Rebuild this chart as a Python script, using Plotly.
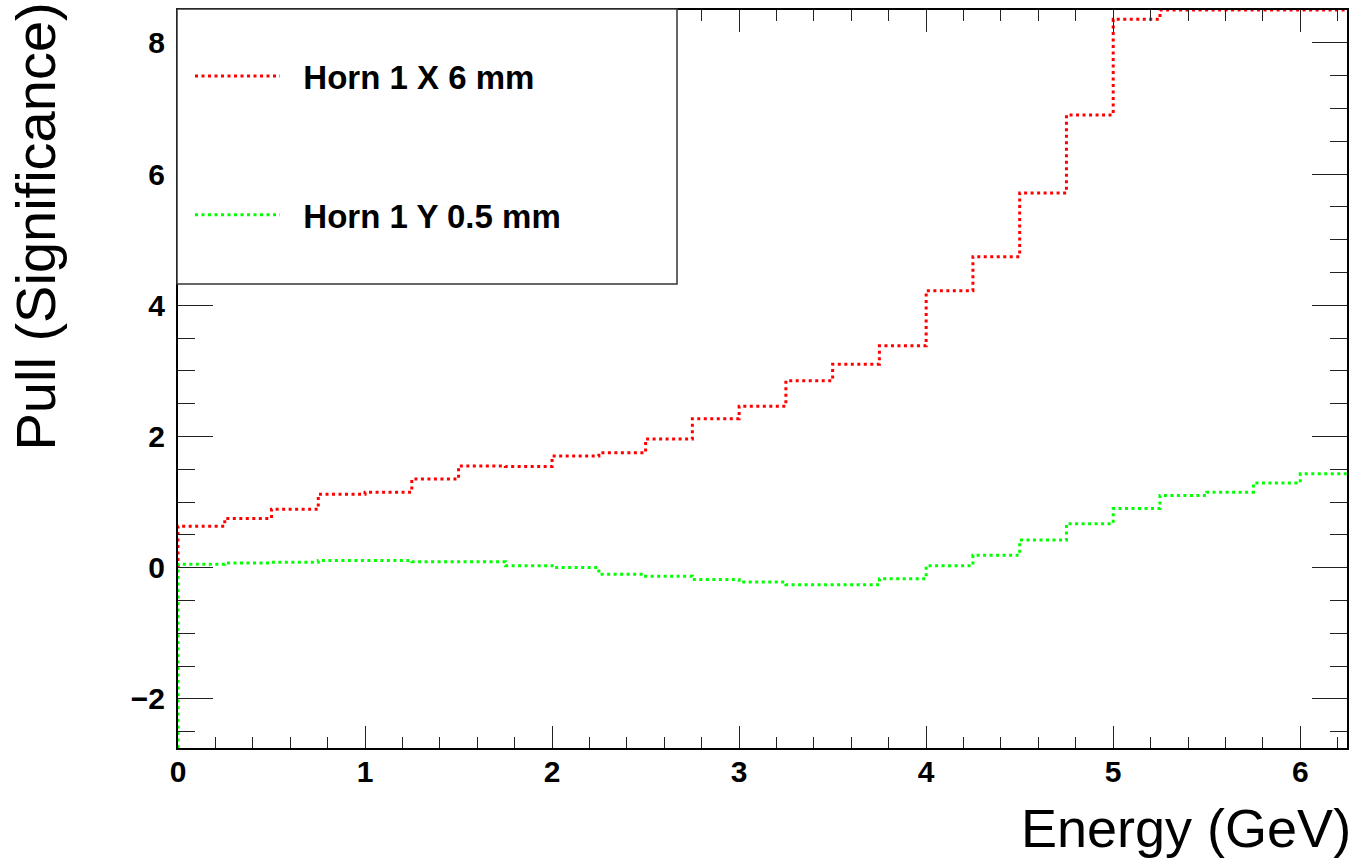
import plotly.graph_objects as go

# Bin low edges (GeV), bin width 0.25
bin_low = [0.00, 0.25, 0.50, 0.75, 1.00, 1.25, 1.50, 1.75, 2.00, 2.25,
           2.50, 2.75, 3.00, 3.25, 3.50, 3.75, 4.00, 4.25, 4.50, 4.75,
           5.00, 5.25, 5.50, 5.75, 6.00]
bin_high_last = 6.25

# Pull values per bin (last red bins run off the top of the axis; shown at axis max)
horn1_x_6mm = [0.63, 0.75, 0.89, 1.12, 1.15, 1.35, 1.55, 1.54, 1.70, 1.75,
               1.96, 2.27, 2.46, 2.85, 3.10, 3.38, 4.22, 4.74, 5.71, 6.90,
               8.36, 8.50, 8.50, 8.50, 8.50]
horn1_y_05mm = [0.05, 0.07, 0.08, 0.11, 0.11, 0.09, 0.09, 0.03, 0.00, -0.10,
                -0.13, -0.18, -0.22, -0.26, -0.26, -0.17, 0.03, 0.19, 0.42, 0.67,
                0.90, 1.10, 1.15, 1.29, 1.43]

series_names = ["Horn 1 X 6 mm", "Horn 1 Y 0.5 mm"]
series_colors = ["#ff0000", "#00ff00"]
series_start = [0.0, -2.75]   # level the outline starts from at the left edge

x_range = [0, 6.25]
y_range = [-2.75, 8.5]


def step_xy(values, start):
    xs = [bin_low[0]] + list(bin_low) + [bin_high_last]
    ys = [start] + list(values) + [values[-1]]
    return xs, ys


fig = go.Figure()
for vals, name, col, st in zip([horn1_x_6mm, horn1_y_05mm], series_names,
                               series_colors, series_start):
    xs, ys = step_xy(vals, st)
    fig.add_trace(go.Scatter(
        x=xs, y=ys, mode="lines", name="\u00a0\u00a0" + name, legendgroup=name,
        line=dict(color=col, width=3, dash="3px,3.5px", shape="hv"),
    ))

tick_font = dict(family="Liberation Sans, Arial, sans-serif", size=30,
                 color="black", weight="bold")

fig.update_xaxes(
    range=x_range, showgrid=False, zeroline=False,
    showline=True, linecolor="black", linewidth=2, mirror="ticks",
    ticks="inside", ticklen=22, tickwidth=1.3, tickcolor="#222",
    dtick=1, tick0=0, tickfont=tick_font, ticklabelstandoff=-4,
    minor=dict(ticks="inside", ticklen=11, tickwidth=1.3, tickcolor="#222",
               dtick=0.2, showgrid=False),
)
fig.update_yaxes(
    range=y_range, showgrid=False, zeroline=False,
    showline=True, linecolor="black", linewidth=2, mirror="ticks",
    ticks="inside", ticklen=35, tickwidth=1.3, tickcolor="#222",
    dtick=2, tick0=0, tickfont=tick_font, ticklabelstandoff=5,
    minor=dict(ticks="inside", ticklen=17, tickwidth=1.3, tickcolor="#222",
               dtick=0.5, showgrid=False),
)

W, H = 1354, 863
L, R, T, B = 178, 7, 10, 115
PW, PH = W - L - R, H - T - B

fam = "Liberation Sans, Arial, sans-serif"

fig.update_layout(
    width=W, height=H,
    margin=dict(l=L, r=R, t=T, b=B, autoexpand=False),
    paper_bgcolor="white", plot_bgcolor="white",
    showlegend=True,
    legend=dict(
        x=12 / PW, y=1 - 38 / PH, xref="paper", yref="paper",
        xanchor="left", yanchor="top",
        bgcolor="rgba(0,0,0,0)", borderwidth=0,
        font=dict(family=fam, size=33, color="black", weight="bold"),
        tracegroupgap=93, itemwidth=85, itemclick=False,
    ),
    shapes=[dict(
        type="rect", xref="paper", yref="paper",
        x0=-1 / PW, x1=(677 - L) / PW,
        y0=1 - (284 - T) / PH, y1=1 + 1 / PH,
        fillcolor="white", line=dict(color="#333", width=1.5), layer="above",
    )],
    annotations=[
        dict(text="Energy (GeV)", xref="paper", yref="paper",
             x=1.0, y=0, xanchor="right", yanchor="bottom", yshift=-112, xshift=6,
             showarrow=False, font=dict(family=fam, size=54, color="black")),
        dict(text="Pull (Significance)", xref="paper", yref="paper",
             x=0, y=1.0, xanchor="right", yanchor="top", xshift=-110, yshift=9,
             textangle=-90, showarrow=False,
             font=dict(family=fam, size=56, color="black")),
    ],
)

fig.write_html("out.html")
